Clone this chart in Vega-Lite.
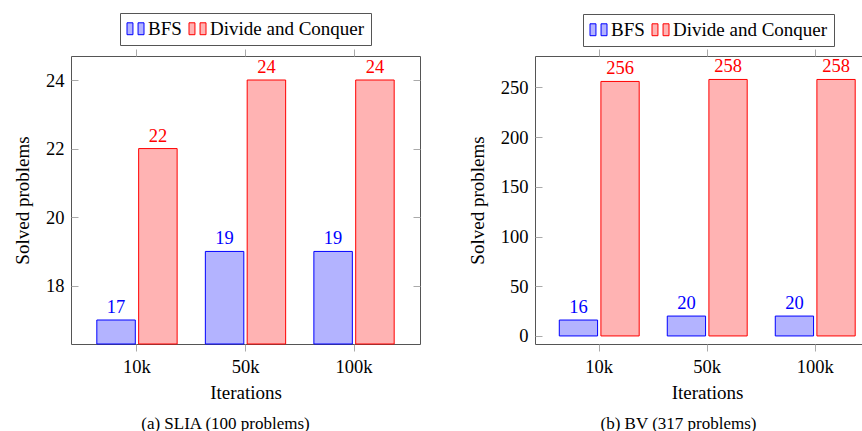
{
  "$schema": "https://vega.github.io/schema/vega-lite/v6.json",
  "padding": {"left": 13, "top": 12, "right": 0, "bottom": 0},
  "autosize": {"type": "pad"},
  "background": "white",
  "config": {
    "font": "Liberation Serif",
    "view": {"stroke": "#555", "strokeWidth": 1},
    "axis": {
      "labelFont": "Liberation Serif", "labelFontSize": 18.5, "labelColor": "black",
      "titleFont": "Liberation Serif", "titleFontSize": 19, "titleFontWeight": "normal", "titleColor": "black",
      "tickColor": "#aaa", "domain": false, "grid": false
    },
    "legend": {
      "labelFont": "Liberation Serif", "labelFontSize": 19, "labelColor": "black",
      "strokeColor": "#555", "fillColor": "white", "padding": 6,
      "symbolType": "M-1,-0.7H-0.3V0.7H-1Z M0.3,-0.7H1V0.7H0.3Z",
      "symbolSize": 289, "symbolStrokeWidth": 1, "labelOffset": 3, "columnPadding": 5,
      "direction": "horizontal", "orient": "none", "title": null
    },
    "title": {"font": "Liberation Serif", "fontSize": 17, "fontWeight": "normal", "color": "black"}
  },
  "datasets": {
    "slia": [
      {"iter": "10k", "method": "BFS", "solved": 17},
      {"iter": "10k", "method": "Divide and Conquer", "solved": 22},
      {"iter": "50k", "method": "BFS", "solved": 19},
      {"iter": "50k", "method": "Divide and Conquer", "solved": 24},
      {"iter": "100k", "method": "BFS", "solved": 19},
      {"iter": "100k", "method": "Divide and Conquer", "solved": 24}
    ],
    "bv": [
      {"iter": "10k", "method": "BFS", "solved": 16},
      {"iter": "10k", "method": "Divide and Conquer", "solved": 256},
      {"iter": "50k", "method": "BFS", "solved": 20},
      {"iter": "50k", "method": "Divide and Conquer", "solved": 258},
      {"iter": "100k", "method": "BFS", "solved": 20},
      {"iter": "100k", "method": "Divide and Conquer", "solved": 258}
    ]
  },
  "spacing": 46,
  "resolve": {
    "scale": {"fill": "independent", "stroke": "independent", "color": "independent", "x": "independent", "y": "independent", "xOffset": "independent"},
    "legend": {"fill": "independent", "stroke": "independent"}
  },
  "hconcat": [
    {
      "width": 349, "height": 288,
      "data": {"name": "slia"},
      "title": {"text": "(a) SLIA (100 problems)", "orient": "bottom", "offset": 13, "dx": -20},
      "encoding": {
        "x": {"field": "iter", "type": "nominal", "sort": ["10k", "50k", "100k"],
              "scale": {"paddingInner": 0.26, "paddingOuter": 0.238},
              "axis": {"title": "Iterations", "labelAngle": 0, "tickSize": 7, "labelPadding": 6, "titlePadding": 8}},
        "xOffset": {"field": "method", "type": "nominal", "sort": ["BFS", "Divide and Conquer"], "scale": {"paddingInner": 0.08}},
        "y": {"field": "solved", "type": "quantitative",
              "scale": {"domain": [16.3, 24.7], "zero": false, "nice": false},
              "axis": {"title": "Solved problems", "values": [18, 20, 22, 24], "tickSize": -7, "labelPadding": 14, "titlePadding": 13}}
      },
      "layer": [
        {
          "mark": {"type": "bar", "strokeWidth": 1},
          "encoding": {
            "y2": {"datum": 16.3},
            "fill": {"field": "method", "type": "nominal", "sort": ["BFS", "Divide and Conquer"],
                     "scale": {"domain": ["BFS", "Divide and Conquer"], "range": ["#b3b3ff", "#ffb3b3"]},
                     "legend": {"legendX": 49, "legendY": -43}},
            "stroke": {"field": "method", "type": "nominal", "sort": ["BFS", "Divide and Conquer"],
                       "scale": {"domain": ["BFS", "Divide and Conquer"], "range": ["#0000ff", "#ff0000"]},
                       "legend": {"legendX": 49, "legendY": -43}}
          }
        },
        {
          "mark": {"type": "text", "baseline": "bottom", "dy": -3, "fontSize": 18.5, "font": "Liberation Serif"},
          "encoding": {
            "text": {"field": "solved", "type": "quantitative"},
            "color": {"field": "method", "type": "nominal",
                      "scale": {"domain": ["BFS", "Divide and Conquer"], "range": ["#0000ff", "#ff0000"]},
                      "legend": null},
            "x": {"field": "iter", "type": "nominal", "sort": ["10k", "50k", "100k"],
                  "axis": {"orient": "top", "labels": false, "title": null, "tickSize": 7}},
            "y": {"field": "solved", "type": "quantitative",
                  "axis": {"orient": "right", "labels": false, "title": null, "values": [18, 20, 22, 24], "tickSize": -7}}
          }
        }
      ],
      "resolve": {"axis": {"x": "independent", "y": "independent"}}
    },
    {
      "width": 331, "height": 288,
      "data": {"name": "bv"},
      "title": {"text": "(b) BV (317 problems)", "orient": "bottom", "offset": 13, "dx": -22},
      "encoding": {
        "x": {"field": "iter", "type": "nominal", "sort": ["10k", "50k", "100k"],
              "scale": {"paddingInner": 0.26, "paddingOuter": 0.1625, "align": 0.692},
              "axis": {"title": "Iterations", "labelAngle": 0, "tickSize": 7, "labelPadding": 6, "titlePadding": 8, "titleX": 172}},
        "xOffset": {"field": "method", "type": "nominal", "sort": ["BFS", "Divide and Conquer"], "scale": {"paddingInner": 0.08}},
        "y": {"field": "solved", "type": "quantitative",
              "scale": {"domain": [-8.1, 281.6], "zero": false, "nice": false},
              "axis": {"title": "Solved problems", "values": [0, 50, 100, 150, 200, 250], "tickSize": -7, "labelPadding": 14, "titlePadding": 13}}
      },
      "layer": [
        {
          "mark": {"type": "bar", "strokeWidth": 1},
          "encoding": {
            "y2": {"datum": 0},
            "fill": {"field": "method", "type": "nominal", "sort": ["BFS", "Divide and Conquer"],
                     "scale": {"domain": ["BFS", "Divide and Conquer"], "range": ["#b3b3ff", "#ffb3b3"]},
                     "legend": {"legendX": 48, "legendY": -42}},
            "stroke": {"field": "method", "type": "nominal", "sort": ["BFS", "Divide and Conquer"],
                       "scale": {"domain": ["BFS", "Divide and Conquer"], "range": ["#0000ff", "#ff0000"]},
                       "legend": {"legendX": 48, "legendY": -42}}
          }
        },
        {
          "mark": {"type": "text", "baseline": "bottom", "dy": -3, "fontSize": 18.5, "font": "Liberation Serif"},
          "encoding": {
            "text": {"field": "solved", "type": "quantitative"},
            "color": {"field": "method", "type": "nominal",
                      "scale": {"domain": ["BFS", "Divide and Conquer"], "range": ["#0000ff", "#ff0000"]},
                      "legend": null},
            "x": {"field": "iter", "type": "nominal", "sort": ["10k", "50k", "100k"],
                  "axis": {"orient": "top", "labels": false, "title": null, "tickSize": 7}}
          }
        }
      ],
      "resolve": {"axis": {"x": "independent"}}
    }
  ]
}
